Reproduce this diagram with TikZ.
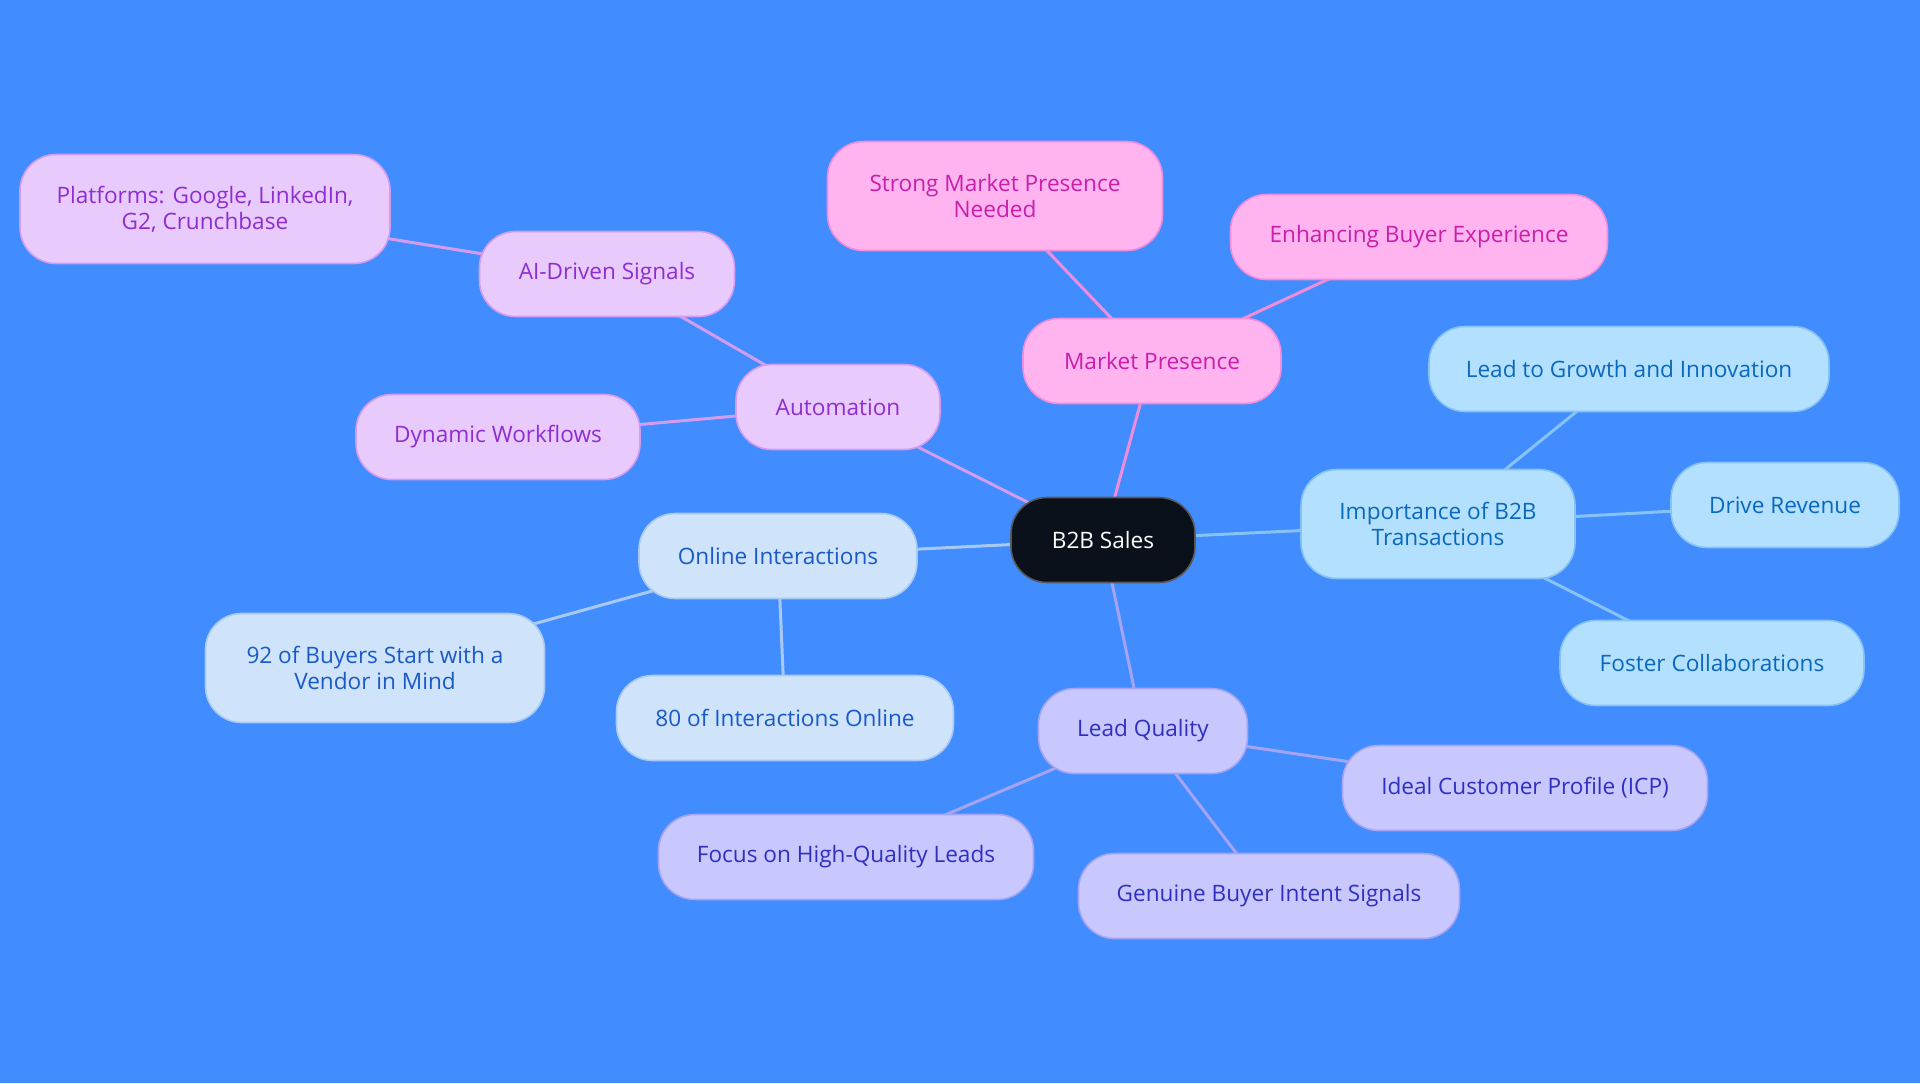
\documentclass[tikz,border=0pt]{standalone}
\usepackage{fontspec}
\setmainfont{Open Sans}
\usetikzlibrary{backgrounds}
\definecolor{bg}{HTML}{418CFF}
\definecolor{pkfill}{HTML}{FFB4F0}\definecolor{pktext}{HTML}{C81EAA}\definecolor{pkline}{HTML}{F08CDC}
\definecolor{pufill}{HTML}{E8CBFC}\definecolor{putext}{HTML}{8E2ED0}\definecolor{puline}{HTML}{D49CF0}
\definecolor{ibfill}{HTML}{B4E0FF}\definecolor{ibtext}{HTML}{0A68BC}\definecolor{ibline}{HTML}{86C2F2}
\definecolor{pbfill}{HTML}{CFE3FB}\definecolor{pbtext}{HTML}{1A5AC8}\definecolor{pbline}{HTML}{A8CAF2}
\definecolor{lvfill}{HTML}{C8C8FF}\definecolor{lvtext}{HTML}{3030C0}\definecolor{lvline}{HTML}{A4A4F2}
\definecolor{rootfill}{HTML}{0B111B}
\tikzset{
  box/.style={draw, line width=0.8pt, rounded corners=18pt, inner sep=0pt, align=center,
    minimum height=42.5pt, font=\fontsize{11.3}{13}\selectfont},
  tall/.style={minimum height=54.5pt},
  pk/.style={box, fill=pkfill, draw=pkline, text=pktext},
  pu/.style={box, fill=pufill, draw=puline, text=putext},
  ib/.style={box, fill=ibfill, draw=ibline, text=ibtext},
  pb/.style={box, fill=pbfill, draw=pbline, text=pbtext},
  lv/.style={box, fill=lvfill, draw=lvline, text=lvtext},
  root/.style={box, fill=rootfill, draw=gray!70!black, text=white},
  edge/.style={line width=1.5pt},
}
\begin{document}
\begin{tikzpicture}[x=0.5pt, y=-0.5pt]
\useasboundingbox (0,0) rectangle (1920,1083);
% nodes
\node[root, minimum width=92pt] (root) at (1103,540) {B2B Sales};
\node[pk, minimum width=129pt] (mp) at (1152,361) {Market Presence};
\node[pk, tall, minimum width=167.5pt] (smp) at (995,196) {Strong Market Presence\\Needed};
\node[pk, minimum width=188.5pt] (ebe) at (1419,237) {Enhancing Buyer Experience};
\node[pu, minimum width=102pt] (aut) at (838,407) {Automation};
\node[pu, minimum width=127.5pt] (ai) at (607,274) {AI-Driven Signals};
\node[pu, tall, minimum width=185pt] (plat) at (205,209) {Platforms: Google, LinkedIn,\\G2, Crunchbase};
\node[pu, minimum width=142pt] (dyn) at (498,437) {Dynamic Workflows};
\node[pb, minimum width=139pt] (oi) at (778,556) {Online Interactions};
\node[pb, tall, minimum width=169.5pt] (b92) at (375,668) {92 of Buyers Start with a\\Vendor in Mind};
\node[pb, minimum width=168.5pt] (i80) at (785,718) {80 of Interactions Online};
\node[lv, minimum width=104.5pt] (lq) at (1143,731) {Lead Quality};
\node[lv, minimum width=187.5pt] (fhq) at (846,857) {Focus on High-Quality Leads};
\node[lv, minimum width=190.5pt] (gbi) at (1269,896) {Genuine Buyer Intent Signals};
\node[lv, minimum width=182.5pt] (icp) at (1525,788) {Ideal Customer Profile (ICP)};
\node[ib, tall, minimum width=137pt] (imp) at (1438,524) {Importance of B2B\\Transactions};
\node[ib, minimum width=200pt] (lgi) at (1629,369) {Lead to Growth and Innovation};
\node[ib, minimum width=114pt] (dr) at (1785,505) {Drive Revenue};
\node[ib, minimum width=152pt] (fc) at (1712,663) {Foster Collaborations};
% background and edges (behind the nodes, centre to centre)
\begin{scope}[on background layer]
\fill[bg] (0,0) rectangle (1920,1083);
\draw[edge, pkline] (root.center) -- (mp.center);
\draw[edge, pkline] (mp.center) -- (smp.center);
\draw[edge, pkline] (mp.center) -- (ebe.center);
\draw[edge, puline] (root.center) -- (aut.center);
\draw[edge, puline] (aut.center) -- (ai.center);
\draw[edge, puline] (ai.center) -- (plat.center);
\draw[edge, puline] (aut.center) -- (dyn.center);
\draw[edge, pbline] (root.center) -- (oi.center);
\draw[edge, pbline] (oi.center) -- (b92.center);
\draw[edge, pbline] (oi.center) -- (i80.center);
\draw[edge, lvline] (root.center) -- (lq.center);
\draw[edge, lvline] (lq.center) -- (fhq.center);
\draw[edge, lvline] (lq.center) -- (gbi.center);
\draw[edge, lvline] (lq.center) -- (icp.center);
\draw[edge, ibline] (root.center) -- (imp.center);
\draw[edge, ibline] (imp.center) -- (lgi.center);
\draw[edge, ibline] (imp.center) -- (dr.center);
\draw[edge, ibline] (imp.center) -- (fc.center);
\end{scope}
\end{tikzpicture}
\end{document}
